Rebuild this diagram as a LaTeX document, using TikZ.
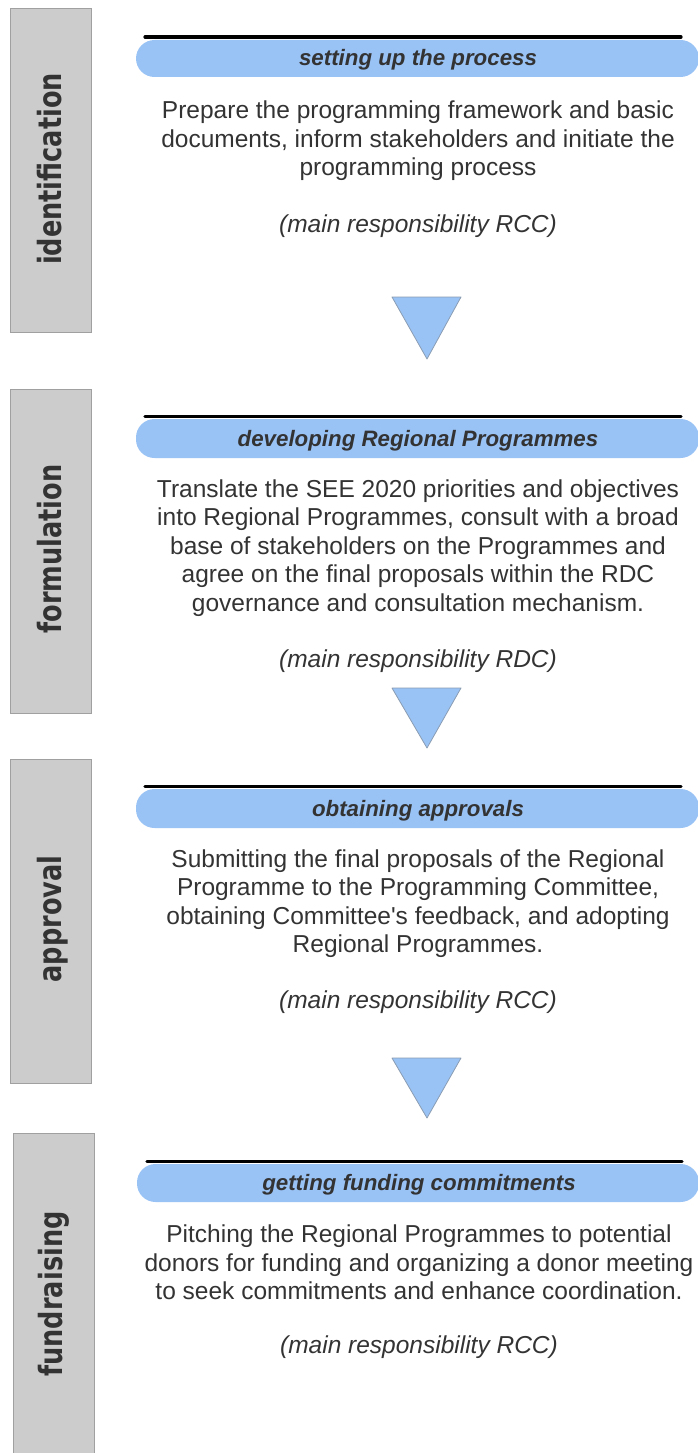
\documentclass[tikz,border=0pt]{standalone}
\usepackage{fontspec}
\setmainfont{Liberation Sans}
\newfontfamily\lblfont{DejaVu Sans Bold}[FakeStretch=0.8]
\definecolor{pillblue}{HTML}{99C2F5}
\definecolor{tribord}{HTML}{8A9DB3}
\definecolor{barfill}{HTML}{CCCCCC}
\definecolor{barline}{HTML}{A0A0A0}
\definecolor{txt}{HTML}{333333}
\begin{document}
\begin{tikzpicture}[x=1pt,y=-1pt,
  bar/.style={draw=barline, fill=barfill, line width=1pt},
  lbl/.style={rotate=90, anchor=base, text=txt, font=\lblfont\fontsize{32}{36}\selectfont, inner sep=0pt},
  pill/.style={fill=pillblue, rounded corners=18.5pt},
  blackrule/.style={line width=3.2pt, line cap=round},
  head/.style={text=txt, font=\bfseries\itshape\fontsize{22.3}{26}\selectfont, inner sep=0pt},
  body/.style={text=txt, align=center, font=\fontsize{24.5}{28.4}\selectfont, inner sep=0pt},
  resp/.style={text=txt, font=\itshape\fontsize{24.5}{28.4}\selectfont, inner sep=0pt},
  tri/.style={fill=pillblue, draw=tribord, line width=0.8pt, line join=round}]
\useasboundingbox (0,0) rectangle (698,1453);

% ---------- section 1 ----------
\draw[bar] (10,9) rectangle (91,332);
\node[lbl] (l1) at (61,169) {identification};
\fill[pill] (136,40) rectangle (699,77);
\draw[blackrule] (145,37) -- (681,37);
\node[head] (h1) at (418,60) {setting up the process};
\node[body] (b1) at (418,141) {Prepare the programming framework and basic\\documents, inform stakeholders and initiate the\\programming process};
\node[resp] (r1) at (418,226.5) {(main responsibility RCC)};
\draw[tri] (392,297) -- (461,297) -- (427,359) -- cycle;

% ---------- section 2 ----------
\draw[bar] (10,389) rectangle (91,713);
\node[lbl] (l2) at (61,549) {formulation};
\fill[pill] (136,419) rectangle (699,458);
\draw[blackrule] (145,416.5) -- (681,416.5);
\node[head] (h2) at (418,441) {developing Regional Programmes};
\node[body] (b2) at (418,548) {Translate the SEE 2020 priorities and objectives\\into Regional Programmes, consult with a broad\\base of stakeholders on the Programmes and\\agree on the final proposals within the RDC\\governance and consultation mechanism.};
\node[resp] (r2) at (418,661.5) {(main responsibility RDC)};
\draw[tri] (392,688) -- (461,688) -- (427,748) -- cycle;

% ---------- section 3 ----------
\draw[bar] (10,759) rectangle (91,1083);
\node[lbl] (l3) at (61,919) {approval};
\fill[pill] (136,789) rectangle (699,828);
\draw[blackrule] (145,786.5) -- (681,786.5);
\node[head] (h3) at (418,811) {obtaining approvals};
\node[body] (b3) at (418,903.5) {Submitting the final proposals of the Regional\\Programme to the Programming Committee,\\obtaining Committee\textquotesingle s feedback, and adopting\\Regional Programmes.};
\node[resp] (r3) at (418,1002.5) {(main responsibility RCC)};
\draw[tri] (392,1058) -- (461,1058) -- (427,1118) -- cycle;

% ---------- section 4 ----------
\draw[bar] (13,1133) rectangle (94,1462);
\node[lbl] (l4) at (62,1294) {fundraising};
\fill[pill] (137,1164) rectangle (699,1202);
\draw[blackrule] (147,1161.5) -- (682,1161.5);
\node[head] (h4) at (419,1185) {getting funding commitments};
\node[body] (b4) at (419,1262.5) {Pitching the Regional Programmes to potential\\donors for funding and organizing a donor meeting\\to seek commitments and enhance coordination.};
\node[resp] (r4) at (419,1347.5) {(main responsibility RCC)};
\end{tikzpicture}
\end{document}
